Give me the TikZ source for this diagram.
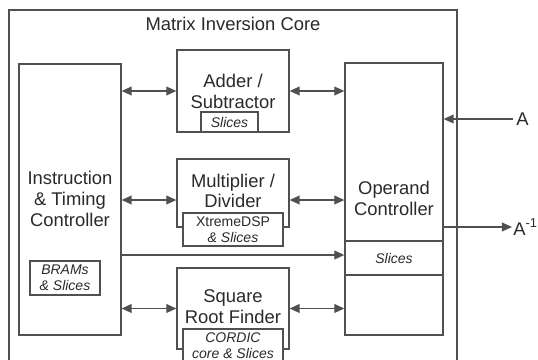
\documentclass[tikz,border=0pt]{standalone}
\usepackage{fontspec}
\setmainfont{Liberation Sans}
\usetikzlibrary{arrows.meta,calc}
\definecolor{linegray}{HTML}{505050}
\definecolor{textgray}{HTML}{2A2A2A}
\tikzset{
    block/.style={draw=linegray,line width=0.65pt,fill=white,inner sep=0pt},
    lbl/.style={text=textgray,align=center,font=\fontsize{9.2}{10.4}\selectfont,inner sep=0pt},
    subblock/.style={block,text=textgray,align=center,font=\fontsize{7}{8}\selectfont\itshape},
    conn/.style={draw=linegray,line width=0.65pt,-{Triangle[length=5pt,width=4.4pt]}},
    biconn/.style={conn,{Triangle[length=5pt,width=4.4pt]}-{Triangle[length=5pt,width=4.4pt]}}
}
\begin{document}
\begin{tikzpicture}[x=0.5pt,y=-0.5pt]
        \clip (0,0) rectangle (538,360);
        \fill[white] (0,0) rectangle (538,360);
        % Core frame
        \draw[linegray,line width=0.65pt] (9,10) rectangle (457,372);
        \node[lbl] (title) at (233,24) {Matrix Inversion Core};
        
        % Controllers
        \node[block,minimum width=51pt,minimum height=135.5pt] (instr) at (70,199.5) {};
        \node[lbl] (instrtxt) at (70,199) {Instruction\\\& Timing\\Controller};
        \node[subblock,minimum width=35pt,minimum height=17pt] (brams) at (65,278) {BRAMs\\\& Slices};
        \node[block,minimum width=49pt,minimum height=136pt] (oper) at (394,199) {};
        \node[lbl] (opertxt) at (394,198.5) {Operand\\Controller};
        \node[subblock,minimum width=49pt,minimum height=17pt] (opsl) at (394,258) {Slices};
        
        % Arithmetic units
        \node[block,minimum width=56pt,minimum height=41pt] (adder) at (233,91) {};
        \node[lbl] (addertxt) at (233,91.5) {Adder /\\Subtractor};
        \node[subblock,minimum width=28.5pt,minimum height=10pt] (addsl) at (229.5,122) {Slices};
        \node[block,minimum width=56pt,minimum height=34pt] (mult) at (233,193) {};
        \node[lbl] (multtxt) at (233,191) {Multiplier /\\Divider};
        \node[subblock,minimum width=50pt,minimum height=16.5pt] (multsl) at (233,229.5) {\upshape XtremeDSP\\\& Slices};
        \node[block,minimum width=56pt,minimum height=40.5pt] (sqrt) at (233,308.5) {};
        \node[lbl] (sqrttxt) at (233,306.5) {Square\\Root Finder};
        \node[subblock,minimum width=50pt,minimum height=17pt] (sqrtsl) at (233,346) {CORDIC\\core \& Slices};
        
        % Connections
        \draw[biconn] (instr.east |- adder.west) -- (adder.west);
        \draw[biconn] (adder.east) -- (adder.east -| oper.west);
        \draw[biconn] (instr.east |- 0,200) -- (mult.west |- 0,200);
        \draw[biconn] (mult.east |- 0,200) -- (oper.west |- 0,200);
        \draw[conn] (instr.east |- 0,255) -- (opsl.west |- 0,255);
        \draw[biconn] (instr.east |- sqrt.west) -- (sqrt.west);
        \draw[biconn] (sqrt.east) -- (sqrt.east -| oper.west);
        
        % Ports
        \coordinate (ain) at (513,119);
        \coordinate (aout) at (512,227);
        \node[lbl,anchor=west,inner sep=1.5pt] (alabel) at (ain) {A};
        \node[lbl,anchor=west,inner sep=0.5pt] (ainvlabel) at (aout) {A\textsuperscript{-1}};
        \draw[conn] (ain) -- (ain -| oper.east);
        \draw[conn] (aout -| oper.east) -- (aout);
\end{tikzpicture}
\end{document}
